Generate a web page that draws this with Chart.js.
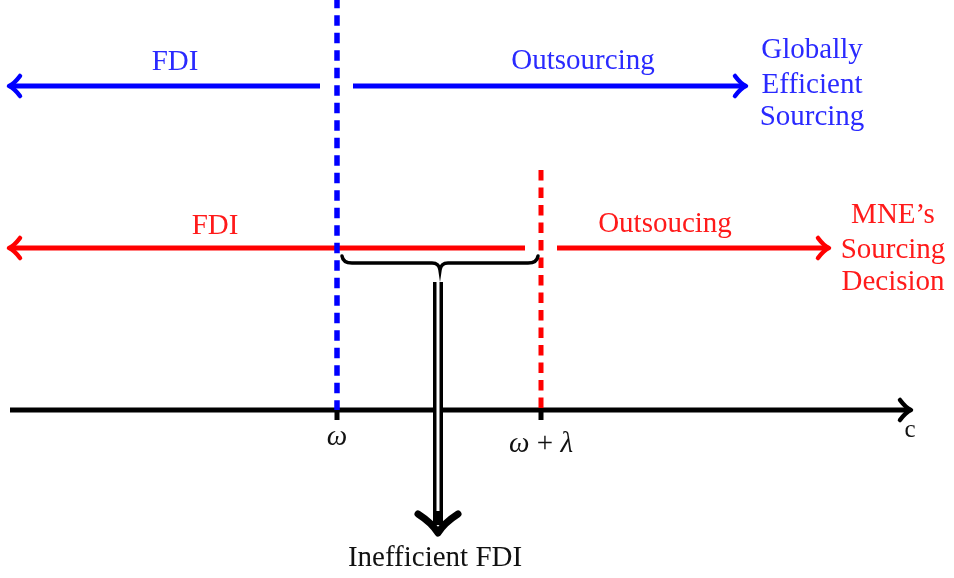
<!DOCTYPE html>
<html>
<head>
<meta charset="utf-8">
<script src="https://cdn.jsdelivr.net/npm/chart.js@4.4.1/dist/chart.umd.min.js"></script>
<style>
  html, body { margin: 0; padding: 0; background: #fff; }
  #wrap { width: 954px; height: 578px; }
</style>
</head>
<body>
<div id="wrap"><canvas id="diagram"></canvas></div>
<script>
// diagram units: x along c, y upward
const xRange = [0, 95.4];
const yRange = [0, 57.8];

const omega = 33.7;
const omegaLambda = 54.1;

const axisY = 16.8;
const axisSpan = [1.0, 91.0];
const tickBottom = 15.8;

const blueY = 49.2;
const blueLeft = [1.0, 32.0];
const blueRight = [35.3, 74.5];
const blueTop = 57.8;

const redY = 33.0;
const redLeft = [1.0, 52.5];
const redRight = [55.7, 82.8];
const redTop = 40.8;

const braceSpan = [34.2, 53.8];
const braceY = 31.5;

const implyX = 43.8;
const implyTop = 29.6;
const implyBottom = 4.3;

const blueLabels = [
  { text: 'FDI', x: 17.5, y: 50.8 },
  { text: 'Outsourcing', x: 58.3, y: 50.9 },
  { text: 'Globally', x: 81.2, y: 52.0 },
  { text: 'Efficient', x: 81.2, y: 48.5 },
  { text: 'Sourcing', x: 81.2, y: 45.3 }
];
const redLabels = [
  { text: 'FDI', x: 21.5, y: 34.4 },
  { text: 'Outsoucing', x: 66.5, y: 34.6 },
  { text: 'MNE\u2019s', x: 89.3, y: 35.5 },
  { text: 'Sourcing', x: 89.3, y: 32.0 },
  { text: 'Decision', x: 89.3, y: 28.8 }
];
const blackLabels = [
  { text: 'c', x: 91.0, y: 14.1 },
  { text: 'Inefficient FDI', x: 43.5, y: 1.2 }
];

const BLUE = '#0000ff';
const RED = '#ff0000';
const FONT = '"Liberation Serif", "DejaVu Serif", serif';

function seg(x1, y1, x2, y2) {
  return [{ x: x1, y: y1 }, { x: x2, y: y2 }];
}

// lower order is painted on top
const datasets = [
  { data: seg(omega, blueTop, omega, axisY), borderColor: BLUE, borderWidth: 5.5, borderDash: [10.5, 7], borderDashOffset: 2.3, order: 1 },
  { data: seg(omegaLambda, redTop, omegaLambda, axisY), borderColor: RED, borderWidth: 5, borderDash: [10.5, 7], borderDashOffset: 0, order: 1 },
  { data: seg(blueLeft[1], blueY, blueLeft[0], blueY), borderColor: BLUE, borderWidth: 5, arrow: 'end', order: 2 },
  { data: seg(blueRight[0], blueY, blueRight[1], blueY), borderColor: BLUE, borderWidth: 5, arrow: 'end', order: 2 },
  { data: seg(redLeft[1], redY, redLeft[0], redY), borderColor: RED, borderWidth: 5, arrow: 'end', order: 2 },
  { data: seg(redRight[0], redY, redRight[1], redY), borderColor: RED, borderWidth: 5, arrow: 'end', order: 2 },
  { data: seg(axisSpan[0], axisY, axisSpan[1], axisY), borderColor: '#000', borderWidth: 5, arrow: 'end', order: 2 },
  { data: seg(omega, axisY, omega, tickBottom), borderColor: '#000', borderWidth: 5, order: 0 },
  { data: seg(omegaLambda, axisY, omegaLambda, tickBottom), borderColor: '#000', borderWidth: 5, order: 0 },
  { data: seg(implyX, implyTop, implyX, implyBottom + 1.0), borderColor: '#000', borderWidth: 10, order: -1 },
  { data: seg(implyX, implyTop + 0.1, implyX, implyBottom + 2.4), borderColor: '#fff', borderWidth: 3, order: -2 }
];

const arrowPlugin = {
  id: 'arrows',
  afterDatasetsDraw(chart) {
    const ctx = chart.ctx;
    chart.data.datasets.forEach((ds, i) => {
      if (!ds.arrow) return;
      const pts = chart.getDatasetMeta(i).data;
      const tip = pts[pts.length - 1], prev = pts[pts.length - 2];
      const a = Math.atan2(tip.y - prev.y, tip.x - prev.x);
      ctx.save();
      ctx.translate(tip.x, tip.y);
      ctx.rotate(a);
      ctx.strokeStyle = ds.borderColor;
      ctx.lineWidth = 4.5;
      ctx.lineCap = 'round';
      ctx.lineJoin = 'round';
      ctx.beginPath();
      ctx.moveTo(-10, -10);
      ctx.quadraticCurveTo(-4, -2, 1, 0);
      ctx.quadraticCurveTo(-4, 2, -10, 10);
      ctx.stroke();
      ctx.restore();
    });
  }
};

const extrasPlugin = {
  id: 'extras',
  afterDraw(chart) {
    const ctx = chart.ctx;
    const sx = chart.scales.x, sy = chart.scales.y;
    const px = v => sx.getPixelForValue(v);
    const py = v => sy.getPixelForValue(v);

    // brace under the gap
    const x1 = px(braceSpan[0]), x2 = px(braceSpan[1]), mid = (x1 + x2) / 2;
    const y = py(braceY);
    ctx.save();
    ctx.strokeStyle = '#000';
    ctx.lineWidth = 3.5;
    ctx.lineCap = 'round';
    ctx.beginPath();
    ctx.moveTo(x1, y - 7);
    ctx.quadraticCurveTo(x1 + 1, y, x1 + 10, y);
    ctx.lineTo(mid - 8, y);
    ctx.quadraticCurveTo(mid - 1, y, mid, y + 7);
    ctx.quadraticCurveTo(mid + 1, y, mid + 8, y);
    ctx.lineTo(x2 - 10, y);
    ctx.quadraticCurveTo(x2 - 1, y, x2, y - 7);
    ctx.stroke();

    // head of the double arrow
    const ax = px(implyX), at = py(implyBottom);
    ctx.lineWidth = 7;
    ctx.lineCap = 'round';
    ctx.lineJoin = 'round';
    ctx.beginPath();
    ctx.moveTo(ax - 20, at - 21);
    ctx.quadraticCurveTo(ax - 6, at - 12, ax, at - 2);
    ctx.quadraticCurveTo(ax + 6, at - 12, ax + 20, at - 21);
    ctx.stroke();
    ctx.restore();

    // text
    ctx.save();
    ctx.textAlign = 'center';
    ctx.textBaseline = 'alphabetic';
    ctx.font = '29px ' + FONT;
    ctx.fillStyle = '#2a2aff';
    blueLabels.forEach(l => ctx.fillText(l.text, px(l.x), py(l.y)));
    ctx.fillStyle = '#ff1a1a';
    redLabels.forEach(l => ctx.fillText(l.text, px(l.x), py(l.y)));
    ctx.fillStyle = '#111';
    ctx.font = '29px ' + FONT;
    ctx.fillText(blackLabels[1].text, px(blackLabels[1].x), py(blackLabels[1].y));
    ctx.font = '25px ' + FONT;
    ctx.fillText(blackLabels[0].text, px(blackLabels[0].x), py(blackLabels[0].y));

    // tick labels: omega and omega + lambda
    ctx.font = 'italic 29px ' + FONT;
    ctx.fillText('\u03c9', px(omega), py(13.3));
    const parts = [['\u03c9', 'italic'], [' + ', ''], ['\u03bb', 'italic']];
    let w = 0;
    parts.forEach(p => { ctx.font = (p[1] ? p[1] + ' ' : '') + '29px ' + FONT; w += ctx.measureText(p[0]).width; });
    let cx = px(omegaLambda) - w / 2;
    ctx.textAlign = 'left';
    parts.forEach(p => {
      ctx.font = (p[1] ? p[1] + ' ' : '') + '29px ' + FONT;
      ctx.fillText(p[0], cx, py(12.6));
      cx += ctx.measureText(p[0]).width;
    });
    ctx.restore();
  }
};

new Chart(document.getElementById('diagram'), {
  type: 'line',
  data: { datasets: datasets },
  options: {
    responsive: true,
    maintainAspectRatio: false,
    animation: false,
    layout: { padding: 0 },
    elements: {
      point: { radius: 0, hoverRadius: 0 },
      line: { borderCapStyle: 'butt', tension: 0, fill: false }
    },
    scales: {
      x: { type: 'linear', min: xRange[0], max: xRange[1], display: false },
      y: { type: 'linear', min: yRange[0], max: yRange[1], display: false }
    },
    plugins: { legend: { display: false }, tooltip: { enabled: false } },
    events: []
  },
  plugins: [arrowPlugin, extrasPlugin]
});
</script>
</body>
</html>
